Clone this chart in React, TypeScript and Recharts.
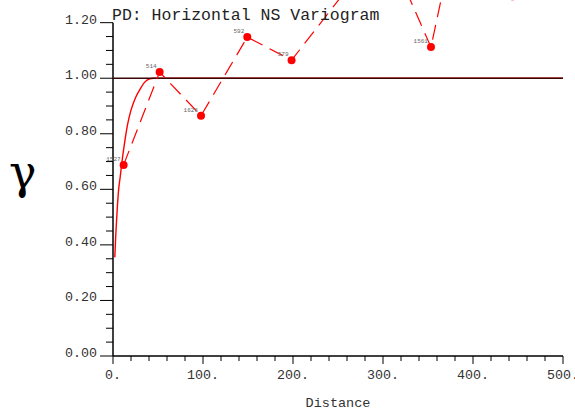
import React from 'react';
import { LineChart, Line, XAxis, YAxis, ReferenceLine } from 'recharts';

// empirical variogram (lag distance, gamma, number of pairs)
const lagDistance = [11.8, 51.8, 97.8, 149.2, 198.4, 301.6, 353.3, 398.6, 444];
const lagGamma = [0.688, 1.022, 0.865, 1.148, 1.065, 1.493, 1.112, 1.8, 1.295];
const lagPairs = [1527, 514, 1626, 592, 579, 1604, 1561, 1487, 1392];

// fitted model curve
const modelDistance = [2, 3, 4, 5, 6, 8, 10, 13, 16, 20, 25, 30, 35, 40, 45, 60, 500];
const modelGamma = [0.355, 0.43, 0.49, 0.545, 0.59, 0.645, 0.7, 0.77, 0.83, 0.885, 0.93, 0.96, 0.985, 0.997, 1.0, 1.0, 1.0];

const xTicks = [0, 20, 40, 60, 80, 100, 120, 140, 160, 180, 200, 220, 240, 260, 280, 300, 320, 340, 360, 380, 400, 420, 440, 460, 480, 500];
const yTicks = [0, 0.05, 0.1, 0.15, 0.2, 0.25, 0.3, 0.35, 0.4, 0.45, 0.5, 0.55, 0.6, 0.65, 0.7, 0.75, 0.8, 0.85, 0.9, 0.95, 1.0, 1.05, 1.1, 1.15, 1.2];

const sill = 1.0;
const MONO = '"Liberation Mono", "DejaVu Sans Mono", monospace';

const lagData = lagDistance.map((d, i) => ({ dist: d, gamma: lagGamma[i], pairs: lagPairs[i] }));
const modelData = modelDistance.map((d, i) => ({ dist: d, gamma: modelGamma[i] }));

const XTick = (props: any) => {
  const { x, y, payload } = props;
  const v = payload.value;
  const major = v % 100 === 0;
  return (
    <g>
      <line x1={x} x2={x} y1={y} y2={y + (major ? 8 : 5)} stroke="#000" strokeWidth={1} />
      {major && (
        <text x={x} y={y + 22.5} textAnchor="middle" fontFamily={MONO} fontSize={13.3} fill="#333">
          {`${v}.`}
        </text>
      )}
    </g>
  );
};

const YTick = (props: any) => {
  const { x, y, payload } = props;
  const v = payload.value;
  const major = Math.round(v * 100) % 20 === 0;
  return (
    <g>
      <line x1={x - (major ? 13 : 7)} x2={x} y1={y} y2={y} stroke="#000" strokeWidth={1} />
      {major && (
        <text x={x - 16} y={y + 1} textAnchor="end" fontFamily={MONO} fontSize={13.3} fill="#333">
          {v.toFixed(2)}
        </text>
      )}
    </g>
  );
};

const LagDot = (props: any) => {
  const { cx, cy, payload, index } = props;
  if (cx == null || cy == null) return null;
  // points above the frame only show as a clipped dot, no pair count
  const showLabel = cy > 12;
  return (
    <g key={`lag-${index}`}>
      <circle cx={cx} cy={cy} r={4} fill="#ff0000" />
      {showLabel && (
        <text x={cx - 3} y={cy - 4} textAnchor="end" fontFamily={MONO} fontSize={6} fill="#666">
          {payload.pairs}
        </text>
      )}
    </g>
  );
};

const App: React.FC = () => {
  return (
    <div style={{ position: 'absolute', left: 0, top: 0, width: 575, height: 414, background: '#fff' }}>
      <LineChart width={575} height={414} margin={{ top: 0, right: 12, left: 0, bottom: 0 }}>
        <XAxis
          dataKey="dist"
          type="number"
          domain={[0, 500]}
          ticks={xTicks}
          interval={0}
          height={58}
          tickSize={0}
          tickMargin={0}
          tickLine={false}
          tick={<XTick />}
          axisLine={{ stroke: '#000', strokeWidth: 1.5 }}
        />
        <YAxis
          type="number"
          domain={[0, 1.2816]}
          allowDataOverflow
          ticks={yTicks}
          interval={0}
          width={113}
          tickSize={0}
          tickMargin={0}
          tickLine={false}
          tick={<YTick />}
          axisLine={false}
        />
        <ReferenceLine
          segment={[{ x: 0, y: 0 }, { x: 0, y: 1.2 }]}
          stroke="#000"
          strokeWidth={1.5}
        />
        <Line
          data={modelData}
          dataKey="gamma"
          type="monotone"
          stroke="#ff0000"
          strokeWidth={1.4}
          dot={false}
          activeDot={false}
          isAnimationActive={false}
        />
        <ReferenceLine y={sill} stroke="#3a0606" strokeWidth={1.5} />
        <Line
          data={lagData}
          dataKey="gamma"
          type="linear"
          stroke="#ff0000"
          strokeWidth={1.2}
          strokeDasharray="15 8"
          dot={<LagDot />}
          activeDot={false}
          isAnimationActive={false}
        />
      </LineChart>
      <svg
        width={575}
        height={414}
        style={{ position: 'absolute', left: 0, top: 0, pointerEvents: 'none' }}
      >
        <text x={112} y={20} fontFamily={MONO} fontSize={16.5} fill="#222">
          PD: Horizontal NS Variogram
        </text>
        <text
          x={9}
          y={188}
          fontFamily='"DejaVu Serif", serif'
          fontSize={46}
          fill="#000"
        >
          γ
        </text>
        <text x={338} y={407} textAnchor="middle" fontFamily={MONO} fontSize={13.5} fill="#333">
          Distance
        </text>
      </svg>
    </div>
  );
};

export default App;
